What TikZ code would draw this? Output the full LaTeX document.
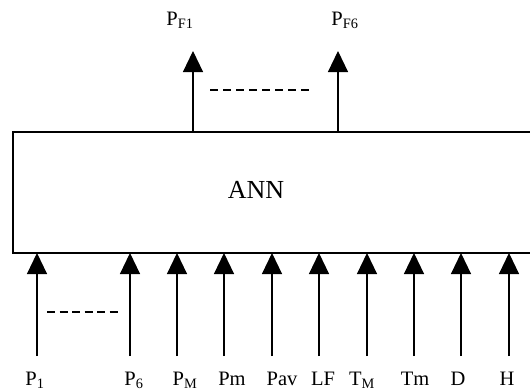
\documentclass[tikz,border=0pt]{standalone}
\usepackage{fontspec}
\setmainfont{Liberation Serif}
\usetikzlibrary{arrows.meta}
\begin{document}
\begin{tikzpicture}[x=1pt,y=-1pt,
  inarrow/.style={line width=1.1pt,-{Triangle[width=20pt,length=21pt]}},
  dashline/.style={line width=1.1pt,dash pattern=on 8pt off 4.5pt},
  lbl/.style={anchor=base,inner sep=0pt,font=\fontsize{20.5}{24}\selectfont}]
\useasboundingbox (0,0) rectangle (530,391);
\node[draw,line width=1.5pt,minimum width=525pt,minimum height=121pt,inner sep=0pt,anchor=north west] (ann) at (12,131) {};
\node[font=\fontsize{26}{30}\selectfont,inner sep=0pt] (annlbl) at (256,190) {ANN};
% bottom inputs
\foreach \n/\x/\lx/\t in {p1/37/35/{P\textsubscript{1}},p6/130/134/{P\textsubscript{6}},pM/177/185/{P\textsubscript{M}},
  pm/224/232/{Pm},pav/272/282/{Pav},lf/319/323/{LF},tM/367/362/{T\textsubscript{M}},tm/414/415/{Tm},d/461/458/{D},h/509/507/{H}}{
  \coordinate (s\n) at (\x,356);
  \coordinate (e\n) at (\x,253);
  \draw[inarrow] (s\n) -- (e\n);
  \node[lbl] (l\n) at (\lx,385) {\t};
}
\coordinate (db1) at (47,312);
\coordinate (db2) at (118,312);
\draw[dashline] (db1) -- (db2);
% outputs
\coordinate (o1s) at (193,131);
\coordinate (o1e) at (193,51);
\coordinate (o6s) at (338,131);
\coordinate (o6e) at (338,51);
\draw[inarrow] (o1s) -- (o1e);
\draw[inarrow] (o6s) -- (o6e);
\node[lbl] (lf1) at (180,25) {P\textsubscript{F1}};
\node[lbl] (lf6) at (345,25) {P\textsubscript{F6}};
\coordinate (dt1) at (210,90);
\coordinate (dt2) at (313,90);
\draw[dashline,dash pattern=on 8pt off 5pt] (dt1) -- (dt2);
\end{tikzpicture}
\end{document}
